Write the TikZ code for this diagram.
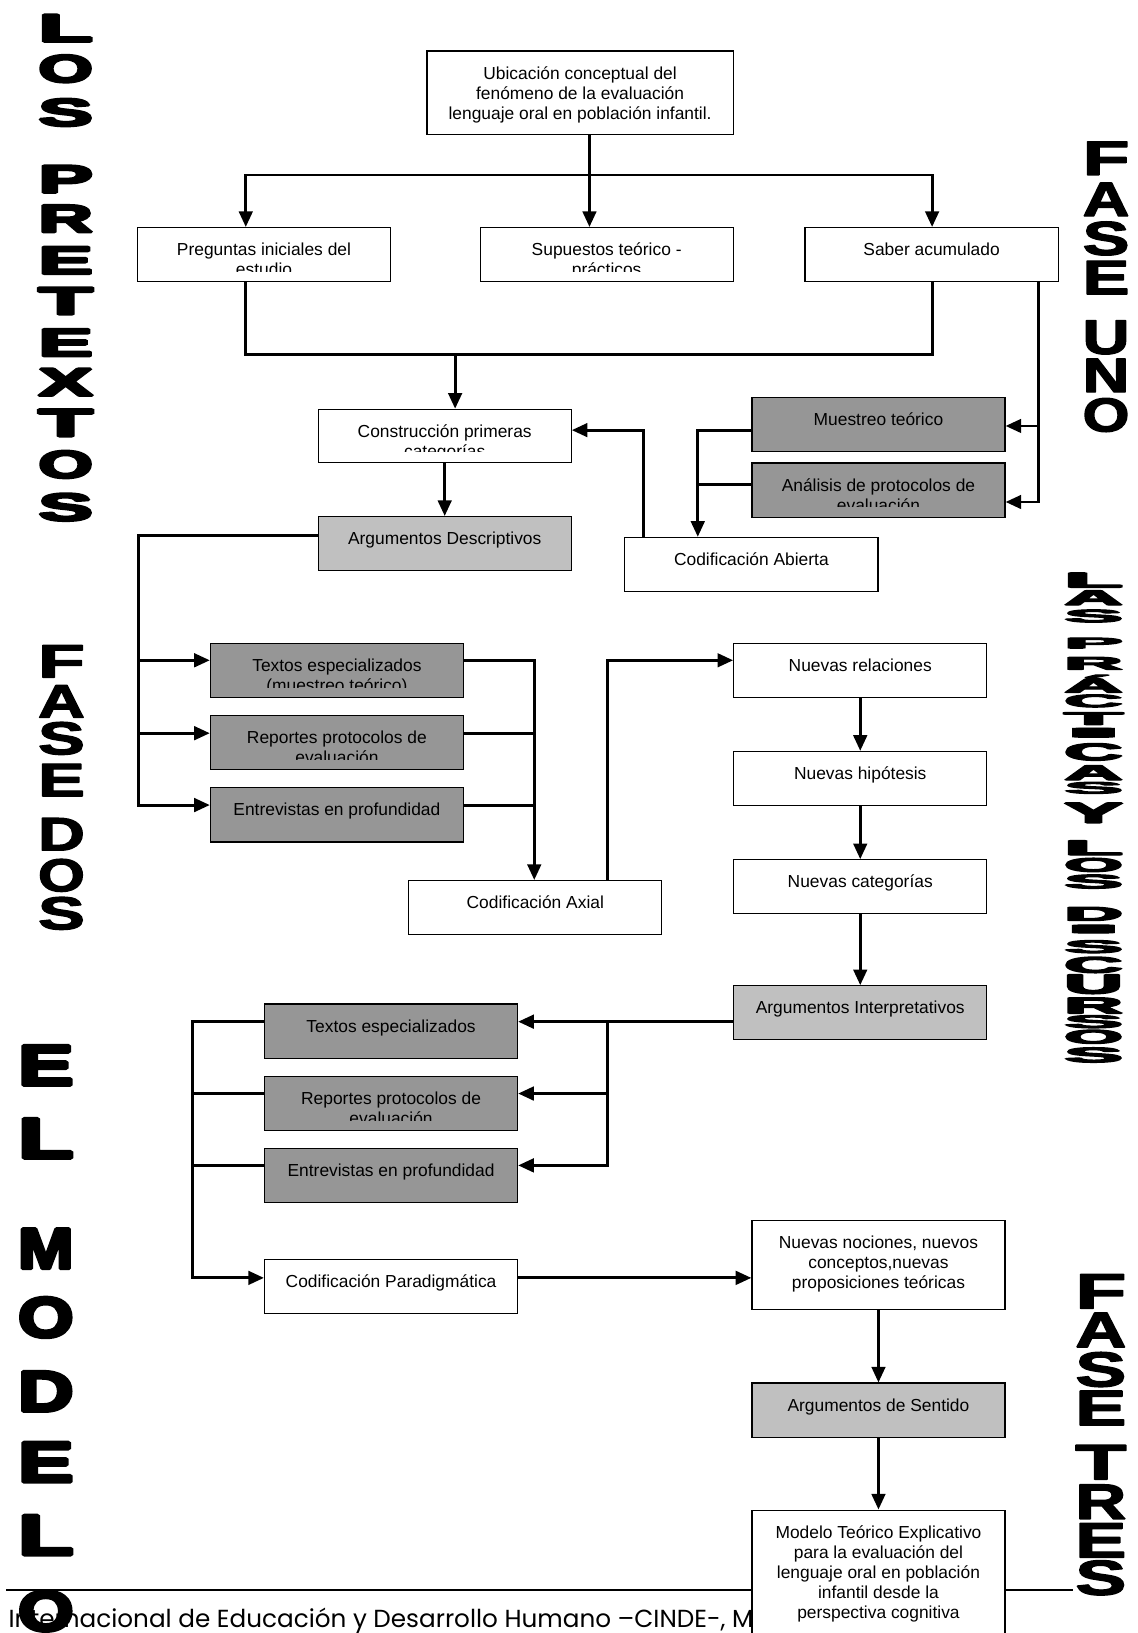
\documentclass[tikz,border=0pt]{standalone}
\usepackage{fontspec}
\usepackage{graphicx}
\setmainfont{Liberation Sans}
\newfontfamily\heavy{Liberation Sans}[FakeBold=6]
\newfontfamily\plainbold{Liberation Sans}[FakeBold=2.5]
\newfontfamily\footfont{Poppins}
\usetikzlibrary{arrows.meta}
\definecolor{darkfill}{HTML}{969696}
\definecolor{lightfill}{HTML}{C0C0C0}
\newcommand\boxfont{\fontsize{16.7}{19.3}\selectfont}
\newcommand\bigch[3]{\resizebox{#1pt}{#2pt}{\heavy\bfseries #3}}
\newcommand\boldch[3]{\resizebox{#1pt}{#2pt}{\plainbold\bfseries #3}}

\begin{document}
\begin{tikzpicture}[x=1pt,y=-1pt,
  box/.style={draw, line width=1.1pt, inner sep=0pt, minimum width=243pt, minimum height=52pt, fill=white},
  dark/.style={box, fill=darkfill},
  light/.style={box, fill=lightfill},
  txt/.style={path picture={
      \clip ([yshift=10pt]path picture bounding box.south west) rectangle (path picture bounding box.north east);
      \node[anchor=base, inner sep=0pt] at ([yshift=-27pt]path picture bounding box.north)
        {\parbox[t]{290pt}{\centering\boxfont #1}};}},
  conn/.style={line width=2.8pt},
  arr/.style={conn, -{Triangle[length=15pt,width=13pt]}},
  footline/.style={line width=2pt},
  bigl/.style={inner sep=0pt},
]
\fill[white] (0,0) rectangle (1092,1568);
\useasboundingbox (0,0) rectangle (1092,1568);

% footer rule and running text
\coordinate (fl) at (6,1527);
\coordinate (fr) at (1030,1527);
\node[anchor=base west, inner sep=0pt, font=\footfont\fontsize{23.7}{26}\selectfont] (foot) at (8,1563)
  {Internacional de Educación y Desarrollo Humano –CINDE-, M};

% boxes
\node[box, minimum width=294pt, minimum height=80pt,
  txt={Ubicación conceptual del\\fenómeno de la evaluación\\lenguaje oral en población infantil.}] (ubic) at (557,89) {};
\node[box, txt={Preguntas iniciales del\\estudio}] (preg) at (253.5,244.5) {};
\node[box, txt={Supuestos teórico -\\prácticos}] (sup) at (582.5,244.5) {};
\node[box, txt={Saber acumulado}] (saber) at (894.5,244.5) {};
\node[box, minimum height=51pt, txt={Construcción primeras\\categorías}] (constr) at (427,418.5) {};
\node[dark, txt={Muestreo teórico}] (muest) at (843.5,407.5) {};
\node[dark, txt={Análisis de protocolos de\\evaluación}] (anal) at (843.5,470.5) {};
\node[box, txt={Codificación Abierta}] (codab) at (721.5,542) {};
\node[light, txt={Argumentos Descriptivos}] (argdesc) at (427,522) {};
\node[dark, txt={Textos especializados\\(muestreo teórico)}] (tex1) at (323.5,644) {};
\node[dark, txt={Reportes protocolos de\\evaluación}] (rep1) at (323.5,713) {};
\node[dark, txt={Entrevistas en profundidad}] (ent1) at (323.5,782.5) {};
\node[box, txt={Codificación Axial}] (codax) at (514,871.5) {};
\node[box, txt={Nuevas relaciones}] (nrel) at (826,643.5) {};
\node[box, txt={Nuevas hipótesis}] (nhip) at (826,747.5) {};
\node[box, txt={Nuevas categorías}] (ncat) at (826,851.5) {};
\node[light, txt={Argumentos Interpretativos}] (argint) at (826,972.5) {};
\node[dark, txt={Textos especializados}] (tex2) at (375.5,990) {};
\node[dark, txt={Reportes protocolos de\\evaluación}] (rep2) at (375.5,1059.5) {};
\node[dark, txt={Entrevistas en profundidad}] (ent2) at (375.5,1129) {};
\node[box, txt={Codificación Paradigmática}] (codpar) at (375.5,1235.5) {};
\node[box, minimum height=85pt,
  txt={Nuevas nociones, nuevos\\conceptos,nuevas\\proposiciones teóricas}] (nnoc) at (843.5,1214.5) {};
\node[light, txt={Argumentos de Sentido}] (argsen) at (843.5,1354) {};
\node[box, minimum height=150pt,
  txt={Modelo Teórico Explicativo\\para la evaluación del\\lenguaje oral en población\\infantil desde la\\perspectiva cognitiva}] (modelo) at (843.5,1525) {};

\draw[footline] (fl) -- (fl -| modelo.west);
\draw[footline] (modelo.east |- fr) -- (fr);

% junction points
\coordinate (jl) at (236,168);
\coordinate (jm) at (566,168);
\coordinate (jr) at (895,168);
\coordinate (kl) at (236,340);
\coordinate (km) at (437,340);
\coordinate (kr) at (895,340);
\coordinate (sa) at (997,409);
\coordinate (sb) at (997,482);
\coordinate (ma) at (670,413);
\coordinate (mb) at (670,465);
\coordinate (ca) at (618,413);
\coordinate (da) at (133,514);
\coordinate (d1) at (133,634);
\coordinate (d2) at (133,704);
\coordinate (d3) at (133,773);
\coordinate (e1) at (513,634);
\coordinate (e2) at (513,704);
\coordinate (e3) at (513,773);
\coordinate (f)  at (583,634);
\coordinate (g1) at (583,981);
\coordinate (g2) at (583,1050);
\coordinate (g3) at (583,1119);
\coordinate (h1) at (185,981);
\coordinate (h2) at (185,1050);
\coordinate (h3) at (185,1119);
\coordinate (h4) at (185,1227);

% connectors
\draw[arr] (jm |- ubic.south) -- (jm |- sup.north);
\draw[arr] (jm) -- (jl) -- (jl |- preg.north);
\draw[arr] (jm) -- (jr) -- (jr |- saber.north);
\draw[conn] (kl |- preg.south) -- (kl) -- (kr) -- (kr |- saber.south);
\draw[arr] (km) -- (km |- constr.north);
\draw[arr] (sa |- saber.south) -- (sb) -- (sb -| anal.east);
\draw[arr] (sa) -- (sa -| muest.east);
\draw[arr] (ma -| muest.west) -- (ma) -- (ma |- codab.north);
\draw[conn] (mb -| anal.west) -- (mb);
\draw[arr] (ca |- codab.north) -- (ca) -- (ca -| constr.east);
\draw[arr] (constr.south) -- (argdesc.north);
\draw[arr] (da -| argdesc.west) -- (da) -- (d3) -- (d3 -| ent1.west);
\draw[arr] (d1) -- (d1 -| tex1.west);
\draw[arr] (d2) -- (d2 -| rep1.west);
\draw[arr] (e1 -| tex1.east) -- (e1) -- (e1 |- codax.north);
\draw[conn] (e2 -| rep1.east) -- (e2);
\draw[conn] (e3 -| ent1.east) -- (e3);
\draw[arr] (f |- codax.north) -- (f) -- (f -| nrel.west);
\draw[arr] (nrel.south) -- (nhip.north);
\draw[arr] (nhip.south) -- (ncat.north);
\draw[arr] (ncat.south) -- (argint.north);
\draw[arr] (g1 -| argint.west) -- (g1 -| tex2.east);
\draw[arr] (g1) -- (g3) -- (g3 -| ent2.east);
\draw[arr] (g2) -- (g2 -| rep2.east);
\draw[arr] (h1 -| tex2.west) -- (h1) -- (h4) -- (h4 -| codpar.west);
\draw[conn] (h2 -| rep2.west) -- (h2);
\draw[conn] (h3 -| ent2.west) -- (h3);
\draw[arr] (h4 -| codpar.east) -- (h4 -| nnoc.west);
\draw[arr] (nnoc.south) -- (argsen.north);
\draw[arr] (argsen.south) -- (modelo.north);

% vertical side titles (a low miter limit keeps the emboldened corners blunt)
\begin{scope}[miter limit=1]
\foreach \ch/\yc [count=\i] in {L/27,O/66,S/108,P/172,R/210,E/250,T/289,E/329,X/367,T/406,O/446,S/487}
  \node[bigl] (pre\i) at (63,\yc) {\bigch{52}{26}{\ch}};
\foreach \ch/\yc [count=\i] in {F/635,A/673.5,S/709,E/749,D/801,O/840.5,S/877}
  \node[bigl] (dos\i) at (59,\yc) {\boldch{45}{31}{\ch}};
\foreach \ch/\yc [count=\i] in {E/1023,L/1093,M/1199,O/1265,D/1336,E/1404,L/1474,O/1547}
  \node[bigl] (mod\i) at (44,\yc) {\bigch{53}{38}{\ch}};
\foreach \ch/\yc [count=\i] in {F/152,A/191.5,S/229,E/266.5,U/324,N/360.5,O/398.5}
  \node[bigl] (uno\i) at (1062,\yc) {\boldch{45}{32}{\ch}};
\foreach \ch/\yc [count=\i] in {F/1240,A/1277,S/1315,E/1352,T/1404,R/1442,E/1479,S/1515}
  \node[bigl] (tres\i) at (1057,\yc) {\boldch{49}{33}{\ch}};
\foreach \ch/\yc/\hh [count=\i] in {L/557/14,A/574/14,S/591.5/12,P/617.5/10,R/637/12,Á/656.5/17,C/673/12,
    T/690/12,I/703.5/9,C/722/16,A/742/14,S/756.5/11,Y/780.5/19,L/814/14,O/830.5/13,S/846.5/13,
    D/877.5/13,I/892/8,S/909/12,C/926.5/15,U/945/18,R/965.5/15,S/981/12,O/995.5/13,S/1013/14}
  \node[bigl] (dis\i) at (1050,\yc) {\bigch{56}{\hh}{\ch}};
\end{scope}
\end{tikzpicture}
\end{document}
